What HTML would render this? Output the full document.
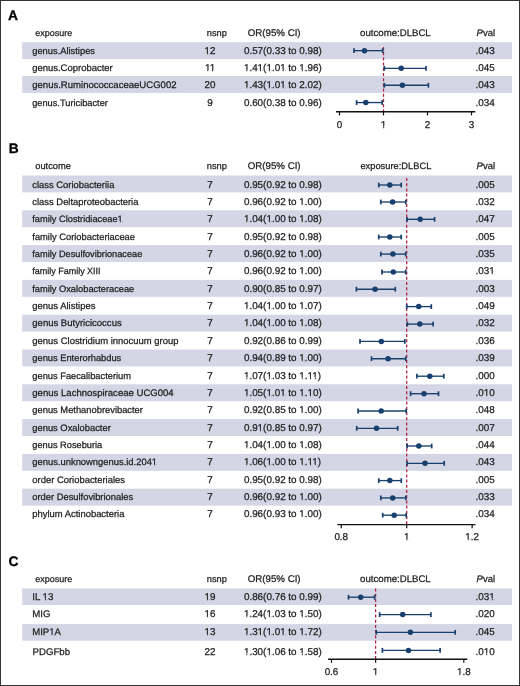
<!DOCTYPE html>
<html><head><meta charset="utf-8"><style>
html,body{margin:0;padding:0;background:#fff;}
body{width:520px;height:686px;overflow:hidden;}
svg{display:block;font-family:"Liberation Sans", sans-serif;will-change:transform;text-rendering:geometricPrecision;}
</style></head><body>
<svg width="520" height="686" viewBox="0 0 520 686">
<rect x="0" y="0" width="520" height="686" fill="#fff"/>
<text x="8.00" y="19.80" font-size="13.8" font-weight="bold" fill="#000" stroke="#000" stroke-width="0.3">A</text>
<text x="35.30" y="35.80" font-size="9.0" textLength="36.99" lengthAdjust="spacing" fill="#222" stroke="#222" stroke-width="0.25">exposure</text>
<text x="206.80" y="35.80" font-size="9.26" textLength="20.09" lengthAdjust="spacing" fill="#222" stroke="#222" stroke-width="0.25">nsnp</text>
<text x="247.70" y="35.80" font-size="9.72" textLength="52.90" lengthAdjust="spacing" fill="#222" stroke="#222" stroke-width="0.25">OR(95% CI)</text>
<text x="360.10" y="35.80" font-size="9.63" textLength="70.62" lengthAdjust="spacing" fill="#222" stroke="#222" stroke-width="0.25">outcome:DLBCL</text>
<text x="476.6" y="35.80" font-size="9.5" fill="#222" stroke="#222" stroke-width="0.25"><tspan font-style="italic">P</tspan>val</text>
<rect x="22.20" y="42.20" width="489.80" height="16.90" fill="#d4d5e5"/>
<rect x="22.20" y="76.00" width="489.80" height="16.90" fill="#d4d5e5"/>
<text x="32.20" y="54.00" font-size="9.34" textLength="62.81" lengthAdjust="spacing" fill="#222" stroke="#222" stroke-width="0.25">genus.Alistipes</text>
<text x="210.00" y="54.00" font-size="9.9" text-anchor="middle" fill="#222" stroke="#222" stroke-width="0.25">12</text>
<text x="243.90" y="54.00" font-size="9.9" fill="#222" stroke="#222" stroke-width="0.25">0.57(0.33 to 0.98)</text>
<text x="475.60" y="54.00" font-size="9.9" fill="#222" stroke="#222" stroke-width="0.25">.043</text>
<text x="32.20" y="70.90" font-size="9.47" textLength="80.51" lengthAdjust="spacing" fill="#222" stroke="#222" stroke-width="0.25">genus.Coprobacter</text>
<text x="210.00" y="70.90" font-size="9.9" text-anchor="middle" fill="#222" stroke="#222" stroke-width="0.25">11</text>
<text x="243.90" y="70.90" font-size="9.9" fill="#222" stroke="#222" stroke-width="0.25">1.41(1.01 to 1.96)</text>
<text x="475.60" y="70.90" font-size="9.9" fill="#222" stroke="#222" stroke-width="0.25">.045</text>
<text x="32.20" y="87.90" font-size="9.54" textLength="144.30" lengthAdjust="spacing" fill="#222" stroke="#222" stroke-width="0.25">genus.RuminococcaceaeUCG002</text>
<text x="210.00" y="87.90" font-size="9.9" text-anchor="middle" fill="#222" stroke="#222" stroke-width="0.25">20</text>
<text x="243.90" y="87.90" font-size="9.9" fill="#222" stroke="#222" stroke-width="0.25">1.43(1.01 to 2.02)</text>
<text x="475.60" y="87.90" font-size="9.9" fill="#222" stroke="#222" stroke-width="0.25">.043</text>
<text x="32.20" y="105.80" font-size="9.24" textLength="75.69" lengthAdjust="spacing" fill="#222" stroke="#222" stroke-width="0.25">genus.Turicibacter</text>
<text x="210.00" y="105.80" font-size="9.9" text-anchor="middle" fill="#222" stroke="#222" stroke-width="0.25">9</text>
<text x="243.90" y="105.80" font-size="9.9" fill="#222" stroke="#222" stroke-width="0.25">0.60(0.38 to 0.96)</text>
<text x="475.60" y="105.80" font-size="9.9" fill="#222" stroke="#222" stroke-width="0.25">.034</text>
<line x1="383.50" y1="47.00" x2="383.50" y2="111.80" stroke="#b02040" stroke-width="1.25" stroke-dasharray="3,2.2"/>
<line x1="354.00" y1="50.65" x2="382.70" y2="50.65" stroke="#18406e" stroke-width="1.35"/>
<line x1="354.00" y1="48.25" x2="354.00" y2="53.05" stroke="#18406e" stroke-width="1.7"/>
<line x1="382.70" y1="48.25" x2="382.70" y2="53.05" stroke="#18406e" stroke-width="1.7"/>
<circle cx="364.50" cy="50.65" r="2.75" fill="#18406e"/>
<line x1="384.30" y1="68.30" x2="426.00" y2="68.30" stroke="#18406e" stroke-width="1.35"/>
<line x1="384.30" y1="65.90" x2="384.30" y2="70.70" stroke="#18406e" stroke-width="1.7"/>
<line x1="426.00" y1="65.90" x2="426.00" y2="70.70" stroke="#18406e" stroke-width="1.7"/>
<circle cx="401.20" cy="68.30" r="2.75" fill="#18406e"/>
<line x1="384.30" y1="85.25" x2="428.40" y2="85.25" stroke="#18406e" stroke-width="1.35"/>
<line x1="384.30" y1="82.85" x2="384.30" y2="87.65" stroke="#18406e" stroke-width="1.7"/>
<line x1="428.40" y1="82.85" x2="428.40" y2="87.65" stroke="#18406e" stroke-width="1.7"/>
<circle cx="402.40" cy="85.25" r="2.75" fill="#18406e"/>
<line x1="356.60" y1="102.55" x2="382.20" y2="102.55" stroke="#18406e" stroke-width="1.35"/>
<line x1="356.60" y1="100.15" x2="356.60" y2="104.95" stroke="#18406e" stroke-width="1.7"/>
<line x1="382.20" y1="100.15" x2="382.20" y2="104.95" stroke="#18406e" stroke-width="1.7"/>
<circle cx="365.80" cy="102.55" r="2.75" fill="#18406e"/>
<line x1="336.00" y1="111.80" x2="475.30" y2="111.80" stroke="#111" stroke-width="1.4"/>
<line x1="339.50" y1="111.80" x2="339.50" y2="115.40" stroke="#111" stroke-width="1.2"/>
<text x="339.50" y="127.60" font-size="9.9" text-anchor="middle" fill="#222" stroke="#222" stroke-width="0.25">0</text>
<line x1="383.50" y1="111.80" x2="383.50" y2="115.40" stroke="#111" stroke-width="1.2"/>
<text x="383.50" y="127.60" font-size="9.9" text-anchor="middle" fill="#222" stroke="#222" stroke-width="0.25">1</text>
<line x1="427.50" y1="111.80" x2="427.50" y2="115.40" stroke="#111" stroke-width="1.2"/>
<text x="427.50" y="127.60" font-size="9.9" text-anchor="middle" fill="#222" stroke="#222" stroke-width="0.25">2</text>
<line x1="471.50" y1="111.80" x2="471.50" y2="115.40" stroke="#111" stroke-width="1.2"/>
<text x="471.50" y="127.60" font-size="9.9" text-anchor="middle" fill="#222" stroke="#222" stroke-width="0.25">3</text>
<text x="8.70" y="153.20" font-size="13.8" font-weight="bold" fill="#000" stroke="#000" stroke-width="0.3">B</text>
<text x="35.20" y="168.70" font-size="9.31" textLength="35.71" lengthAdjust="spacing" fill="#222" stroke="#222" stroke-width="0.25">outcome</text>
<text x="206.80" y="168.70" font-size="9.26" textLength="20.09" lengthAdjust="spacing" fill="#222" stroke="#222" stroke-width="0.25">nsnp</text>
<text x="247.70" y="168.70" font-size="9.72" textLength="52.90" lengthAdjust="spacing" fill="#222" stroke="#222" stroke-width="0.25">OR(95% CI)</text>
<text x="360.40" y="168.70" font-size="9.31" textLength="70.90" lengthAdjust="spacing" fill="#222" stroke="#222" stroke-width="0.25">exposure:DLBCL</text>
<text x="476.6" y="168.70" font-size="9.5" fill="#222" stroke="#222" stroke-width="0.25"><tspan font-style="italic">P</tspan>val</text>
<rect x="22.20" y="175.50" width="489.80" height="16.90" fill="#d4d5e5"/>
<rect x="22.20" y="210.30" width="489.80" height="16.90" fill="#d4d5e5"/>
<rect x="22.20" y="245.10" width="489.80" height="16.90" fill="#d4d5e5"/>
<rect x="22.20" y="279.90" width="489.80" height="16.90" fill="#d4d5e5"/>
<rect x="22.20" y="314.70" width="489.80" height="16.90" fill="#d4d5e5"/>
<rect x="22.20" y="349.50" width="489.80" height="16.90" fill="#d4d5e5"/>
<rect x="22.20" y="384.30" width="489.80" height="16.90" fill="#d4d5e5"/>
<rect x="22.20" y="419.10" width="489.80" height="16.90" fill="#d4d5e5"/>
<rect x="22.20" y="453.90" width="489.80" height="16.90" fill="#d4d5e5"/>
<rect x="22.20" y="488.70" width="489.80" height="16.90" fill="#d4d5e5"/>
<text x="32.30" y="187.60" font-size="9.4" textLength="82.06" lengthAdjust="spacing" fill="#222" stroke="#222" stroke-width="0.25">class Coriobacteriia</text>
<text x="210.00" y="187.60" font-size="9.9" text-anchor="middle" fill="#222" stroke="#222" stroke-width="0.25">7</text>
<text x="243.90" y="187.60" font-size="9.9" fill="#222" stroke="#222" stroke-width="0.25">0.95(0.92 to 0.98)</text>
<text x="475.60" y="187.60" font-size="9.9" fill="#222" stroke="#222" stroke-width="0.25">.005</text>
<text x="32.30" y="204.96" font-size="9.41" textLength="106.14" lengthAdjust="spacing" fill="#222" stroke="#222" stroke-width="0.25">class Deltaproteobacteria</text>
<text x="210.00" y="204.96" font-size="9.9" text-anchor="middle" fill="#222" stroke="#222" stroke-width="0.25">7</text>
<text x="243.90" y="204.96" font-size="9.9" fill="#222" stroke="#222" stroke-width="0.25">0.96(0.92 to 1.00)</text>
<text x="475.60" y="204.96" font-size="9.9" fill="#222" stroke="#222" stroke-width="0.25">.032</text>
<text x="32.30" y="222.32" font-size="9.24" textLength="90.42" lengthAdjust="spacing" fill="#222" stroke="#222" stroke-width="0.25">family Clostridiaceae1</text>
<text x="210.00" y="222.32" font-size="9.9" text-anchor="middle" fill="#222" stroke="#222" stroke-width="0.25">7</text>
<text x="243.90" y="222.32" font-size="9.9" fill="#222" stroke="#222" stroke-width="0.25">1.04(1.00 to 1.08)</text>
<text x="475.60" y="222.32" font-size="9.9" fill="#222" stroke="#222" stroke-width="0.25">.047</text>
<text x="32.30" y="239.68" font-size="9.33" textLength="102.70" lengthAdjust="spacing" fill="#222" stroke="#222" stroke-width="0.25">family Coriobacteriaceae</text>
<text x="210.00" y="239.68" font-size="9.9" text-anchor="middle" fill="#222" stroke="#222" stroke-width="0.25">7</text>
<text x="243.90" y="239.68" font-size="9.9" fill="#222" stroke="#222" stroke-width="0.25">0.95(0.92 to 0.98)</text>
<text x="475.60" y="239.68" font-size="9.9" fill="#222" stroke="#222" stroke-width="0.25">.005</text>
<text x="32.30" y="257.04" font-size="9.21" textLength="110.01" lengthAdjust="spacing" fill="#222" stroke="#222" stroke-width="0.25">family Desulfovibrionaceae</text>
<text x="210.00" y="257.04" font-size="9.9" text-anchor="middle" fill="#222" stroke="#222" stroke-width="0.25">7</text>
<text x="243.90" y="257.04" font-size="9.9" fill="#222" stroke="#222" stroke-width="0.25">0.96(0.92 to 1.00)</text>
<text x="475.60" y="257.04" font-size="9.9" fill="#222" stroke="#222" stroke-width="0.25">.035</text>
<text x="32.30" y="274.40" font-size="9.0" textLength="68.32" lengthAdjust="spacing" fill="#222" stroke="#222" stroke-width="0.25">family Family XIII</text>
<text x="210.00" y="274.40" font-size="9.9" text-anchor="middle" fill="#222" stroke="#222" stroke-width="0.25">7</text>
<text x="243.90" y="274.40" font-size="9.9" fill="#222" stroke="#222" stroke-width="0.25">0.96(0.92 to 1.00)</text>
<text x="475.60" y="274.40" font-size="9.9" fill="#222" stroke="#222" stroke-width="0.25">.031</text>
<text x="32.30" y="291.76" font-size="9.26" textLength="101.91" lengthAdjust="spacing" fill="#222" stroke="#222" stroke-width="0.25">family Oxalobacteraceae</text>
<text x="210.00" y="291.76" font-size="9.9" text-anchor="middle" fill="#222" stroke="#222" stroke-width="0.25">7</text>
<text x="243.90" y="291.76" font-size="9.9" fill="#222" stroke="#222" stroke-width="0.25">0.90(0.85 to 0.97)</text>
<text x="475.60" y="291.76" font-size="9.9" fill="#222" stroke="#222" stroke-width="0.25">.003</text>
<text x="32.30" y="309.12" font-size="9.46" textLength="63.11" lengthAdjust="spacing" fill="#222" stroke="#222" stroke-width="0.25">genus Alistipes</text>
<text x="210.00" y="309.12" font-size="9.9" text-anchor="middle" fill="#222" stroke="#222" stroke-width="0.25">7</text>
<text x="243.90" y="309.12" font-size="9.9" fill="#222" stroke="#222" stroke-width="0.25">1.04(1.00 to 1.07)</text>
<text x="475.60" y="309.12" font-size="9.9" fill="#222" stroke="#222" stroke-width="0.25">.049</text>
<text x="32.30" y="326.48" font-size="9.52" textLength="89.38" lengthAdjust="spacing" fill="#222" stroke="#222" stroke-width="0.25">genus Butyricicoccus</text>
<text x="210.00" y="326.48" font-size="9.9" text-anchor="middle" fill="#222" stroke="#222" stroke-width="0.25">7</text>
<text x="243.90" y="326.48" font-size="9.9" fill="#222" stroke="#222" stroke-width="0.25">1.04(1.00 to 1.08)</text>
<text x="475.60" y="326.48" font-size="9.9" fill="#222" stroke="#222" stroke-width="0.25">.032</text>
<text x="32.30" y="343.84" font-size="9.46" textLength="146.18" lengthAdjust="spacing" fill="#222" stroke="#222" stroke-width="0.25">genus Clostridium innocuum group</text>
<text x="210.00" y="343.84" font-size="9.9" text-anchor="middle" fill="#222" stroke="#222" stroke-width="0.25">7</text>
<text x="243.90" y="343.84" font-size="9.9" fill="#222" stroke="#222" stroke-width="0.25">0.92(0.86 to 0.99)</text>
<text x="475.60" y="343.84" font-size="9.9" fill="#222" stroke="#222" stroke-width="0.25">.036</text>
<text x="32.30" y="361.20" font-size="9.3" textLength="88.98" lengthAdjust="spacing" fill="#222" stroke="#222" stroke-width="0.25">genus Enterorhabdus</text>
<text x="210.00" y="361.20" font-size="9.9" text-anchor="middle" fill="#222" stroke="#222" stroke-width="0.25">7</text>
<text x="243.90" y="361.20" font-size="9.9" fill="#222" stroke="#222" stroke-width="0.25">0.94(0.89 to 1.00)</text>
<text x="475.60" y="361.20" font-size="9.9" fill="#222" stroke="#222" stroke-width="0.25">.039</text>
<text x="32.30" y="378.56" font-size="9.3" textLength="98.72" lengthAdjust="spacing" fill="#222" stroke="#222" stroke-width="0.25">genus Faecalibacterium</text>
<text x="210.00" y="378.56" font-size="9.9" text-anchor="middle" fill="#222" stroke="#222" stroke-width="0.25">7</text>
<text x="243.90" y="378.56" font-size="9.9" fill="#222" stroke="#222" stroke-width="0.25">1.07(1.03 to 1.11)</text>
<text x="475.60" y="378.56" font-size="9.9" fill="#222" stroke="#222" stroke-width="0.25">.000</text>
<text x="32.30" y="395.92" font-size="9.56" textLength="141.38" lengthAdjust="spacing" fill="#222" stroke="#222" stroke-width="0.25">genus Lachnospiraceae UCG004</text>
<text x="210.00" y="395.92" font-size="9.9" text-anchor="middle" fill="#222" stroke="#222" stroke-width="0.25">7</text>
<text x="243.90" y="395.92" font-size="9.9" fill="#222" stroke="#222" stroke-width="0.25">1.05(1.01 to 1.10)</text>
<text x="475.60" y="395.92" font-size="9.9" fill="#222" stroke="#222" stroke-width="0.25">.010</text>
<text x="32.30" y="413.28" font-size="9.34" textLength="110.61" lengthAdjust="spacing" fill="#222" stroke="#222" stroke-width="0.25">genus Methanobrevibacter</text>
<text x="210.00" y="413.28" font-size="9.9" text-anchor="middle" fill="#222" stroke="#222" stroke-width="0.25">7</text>
<text x="243.90" y="413.28" font-size="9.9" fill="#222" stroke="#222" stroke-width="0.25">0.92(0.85 to 1.00)</text>
<text x="475.60" y="413.28" font-size="9.9" fill="#222" stroke="#222" stroke-width="0.25">.048</text>
<text x="32.30" y="430.64" font-size="9.35" textLength="78.49" lengthAdjust="spacing" fill="#222" stroke="#222" stroke-width="0.25">genus Oxalobacter</text>
<text x="210.00" y="430.64" font-size="9.9" text-anchor="middle" fill="#222" stroke="#222" stroke-width="0.25">7</text>
<text x="243.90" y="430.64" font-size="9.9" fill="#222" stroke="#222" stroke-width="0.25">0.91(0.85 to 0.97)</text>
<text x="475.60" y="430.64" font-size="9.9" fill="#222" stroke="#222" stroke-width="0.25">.007</text>
<text x="32.30" y="448.00" font-size="9.25" textLength="69.96" lengthAdjust="spacing" fill="#222" stroke="#222" stroke-width="0.25">genus Roseburia</text>
<text x="210.00" y="448.00" font-size="9.9" text-anchor="middle" fill="#222" stroke="#222" stroke-width="0.25">7</text>
<text x="243.90" y="448.00" font-size="9.9" fill="#222" stroke="#222" stroke-width="0.25">1.04(1.00 to 1.08)</text>
<text x="475.60" y="448.00" font-size="9.9" fill="#222" stroke="#222" stroke-width="0.25">.044</text>
<text x="32.30" y="465.36" font-size="9.39" textLength="124.79" lengthAdjust="spacing" fill="#222" stroke="#222" stroke-width="0.25">genus.unknowngenus.id.2041</text>
<text x="210.00" y="465.36" font-size="9.9" text-anchor="middle" fill="#222" stroke="#222" stroke-width="0.25">7</text>
<text x="243.90" y="465.36" font-size="9.9" fill="#222" stroke="#222" stroke-width="0.25">1.06(1.00 to 1.11)</text>
<text x="475.60" y="465.36" font-size="9.9" fill="#222" stroke="#222" stroke-width="0.25">.043</text>
<text x="32.30" y="482.72" font-size="9.42" textLength="92.68" lengthAdjust="spacing" fill="#222" stroke="#222" stroke-width="0.25">order Coriobacteriales</text>
<text x="210.00" y="482.72" font-size="9.9" text-anchor="middle" fill="#222" stroke="#222" stroke-width="0.25">7</text>
<text x="243.90" y="482.72" font-size="9.9" fill="#222" stroke="#222" stroke-width="0.25">0.95(0.92 to 0.98)</text>
<text x="475.60" y="482.72" font-size="9.9" fill="#222" stroke="#222" stroke-width="0.25">.005</text>
<text x="32.30" y="500.08" font-size="9.35" textLength="100.79" lengthAdjust="spacing" fill="#222" stroke="#222" stroke-width="0.25">order Desulfovibrionales</text>
<text x="210.00" y="500.08" font-size="9.9" text-anchor="middle" fill="#222" stroke="#222" stroke-width="0.25">7</text>
<text x="243.90" y="500.08" font-size="9.9" fill="#222" stroke="#222" stroke-width="0.25">0.96(0.92 to 1.00)</text>
<text x="475.60" y="500.08" font-size="9.9" fill="#222" stroke="#222" stroke-width="0.25">.033</text>
<text x="32.30" y="517.44" font-size="9.41" textLength="92.09" lengthAdjust="spacing" fill="#222" stroke="#222" stroke-width="0.25">phylum Actinobacteria</text>
<text x="210.00" y="517.44" font-size="9.9" text-anchor="middle" fill="#222" stroke="#222" stroke-width="0.25">7</text>
<text x="243.90" y="517.44" font-size="9.9" fill="#222" stroke="#222" stroke-width="0.25">0.96(0.93 to 1.00)</text>
<text x="475.60" y="517.44" font-size="9.9" fill="#222" stroke="#222" stroke-width="0.25">.034</text>
<line x1="406.70" y1="178.00" x2="406.70" y2="524.60" stroke="#b02040" stroke-width="1.25" stroke-dasharray="3,2.2"/>
<line x1="378.75" y1="185.00" x2="401.20" y2="185.00" stroke="#18406e" stroke-width="1.35"/>
<line x1="378.75" y1="182.60" x2="378.75" y2="187.40" stroke="#18406e" stroke-width="1.7"/>
<line x1="401.20" y1="182.60" x2="401.20" y2="187.40" stroke="#18406e" stroke-width="1.7"/>
<circle cx="389.80" cy="185.00" r="2.75" fill="#18406e"/>
<line x1="380.80" y1="202.00" x2="405.80" y2="202.00" stroke="#18406e" stroke-width="1.35"/>
<line x1="380.80" y1="199.60" x2="380.80" y2="204.40" stroke="#18406e" stroke-width="1.7"/>
<line x1="405.80" y1="199.60" x2="405.80" y2="204.40" stroke="#18406e" stroke-width="1.7"/>
<circle cx="392.60" cy="202.00" r="2.75" fill="#18406e"/>
<line x1="407.00" y1="219.30" x2="434.60" y2="219.30" stroke="#18406e" stroke-width="1.35"/>
<line x1="407.00" y1="216.90" x2="407.00" y2="221.70" stroke="#18406e" stroke-width="1.7"/>
<line x1="434.60" y1="216.90" x2="434.60" y2="221.70" stroke="#18406e" stroke-width="1.7"/>
<circle cx="420.20" cy="219.30" r="2.75" fill="#18406e"/>
<line x1="378.75" y1="237.00" x2="401.20" y2="237.00" stroke="#18406e" stroke-width="1.35"/>
<line x1="378.75" y1="234.60" x2="378.75" y2="239.40" stroke="#18406e" stroke-width="1.7"/>
<line x1="401.20" y1="234.60" x2="401.20" y2="239.40" stroke="#18406e" stroke-width="1.7"/>
<circle cx="389.80" cy="237.00" r="2.75" fill="#18406e"/>
<line x1="380.80" y1="254.10" x2="405.70" y2="254.10" stroke="#18406e" stroke-width="1.35"/>
<line x1="380.80" y1="251.70" x2="380.80" y2="256.50" stroke="#18406e" stroke-width="1.7"/>
<line x1="405.70" y1="251.70" x2="405.70" y2="256.50" stroke="#18406e" stroke-width="1.7"/>
<circle cx="392.90" cy="254.10" r="2.75" fill="#18406e"/>
<line x1="382.00" y1="272.00" x2="405.70" y2="272.00" stroke="#18406e" stroke-width="1.35"/>
<line x1="382.00" y1="269.60" x2="382.00" y2="274.40" stroke="#18406e" stroke-width="1.7"/>
<line x1="405.70" y1="269.60" x2="405.70" y2="274.40" stroke="#18406e" stroke-width="1.7"/>
<circle cx="393.30" cy="272.00" r="2.75" fill="#18406e"/>
<line x1="356.40" y1="289.25" x2="395.30" y2="289.25" stroke="#18406e" stroke-width="1.35"/>
<line x1="356.40" y1="286.85" x2="356.40" y2="291.65" stroke="#18406e" stroke-width="1.7"/>
<line x1="395.30" y1="286.85" x2="395.30" y2="291.65" stroke="#18406e" stroke-width="1.7"/>
<circle cx="375.10" cy="289.25" r="2.75" fill="#18406e"/>
<line x1="406.70" y1="306.60" x2="431.30" y2="306.60" stroke="#18406e" stroke-width="1.35"/>
<line x1="406.70" y1="304.20" x2="406.70" y2="309.00" stroke="#18406e" stroke-width="1.7"/>
<line x1="431.30" y1="304.20" x2="431.30" y2="309.00" stroke="#18406e" stroke-width="1.7"/>
<circle cx="418.70" cy="306.60" r="2.75" fill="#18406e"/>
<line x1="407.30" y1="324.10" x2="433.10" y2="324.10" stroke="#18406e" stroke-width="1.35"/>
<line x1="407.30" y1="321.70" x2="407.30" y2="326.50" stroke="#18406e" stroke-width="1.7"/>
<line x1="433.10" y1="321.70" x2="433.10" y2="326.50" stroke="#18406e" stroke-width="1.7"/>
<circle cx="419.80" cy="324.10" r="2.75" fill="#18406e"/>
<line x1="360.00" y1="341.40" x2="404.80" y2="341.40" stroke="#18406e" stroke-width="1.35"/>
<line x1="360.00" y1="339.00" x2="360.00" y2="343.80" stroke="#18406e" stroke-width="1.7"/>
<line x1="404.80" y1="339.00" x2="404.80" y2="343.80" stroke="#18406e" stroke-width="1.7"/>
<circle cx="381.30" cy="341.40" r="2.75" fill="#18406e"/>
<line x1="371.50" y1="358.70" x2="405.80" y2="358.70" stroke="#18406e" stroke-width="1.35"/>
<line x1="371.50" y1="356.30" x2="371.50" y2="361.10" stroke="#18406e" stroke-width="1.7"/>
<line x1="405.80" y1="356.30" x2="405.80" y2="361.10" stroke="#18406e" stroke-width="1.7"/>
<circle cx="388.10" cy="358.70" r="2.75" fill="#18406e"/>
<line x1="416.90" y1="376.20" x2="443.80" y2="376.20" stroke="#18406e" stroke-width="1.35"/>
<line x1="416.90" y1="373.80" x2="416.90" y2="378.60" stroke="#18406e" stroke-width="1.7"/>
<line x1="443.80" y1="373.80" x2="443.80" y2="378.60" stroke="#18406e" stroke-width="1.7"/>
<circle cx="429.80" cy="376.20" r="2.75" fill="#18406e"/>
<line x1="410.60" y1="393.70" x2="438.50" y2="393.70" stroke="#18406e" stroke-width="1.35"/>
<line x1="410.60" y1="391.30" x2="410.60" y2="396.10" stroke="#18406e" stroke-width="1.7"/>
<line x1="438.50" y1="391.30" x2="438.50" y2="396.10" stroke="#18406e" stroke-width="1.7"/>
<circle cx="424.00" cy="393.70" r="2.75" fill="#18406e"/>
<line x1="358.10" y1="411.00" x2="406.20" y2="411.00" stroke="#18406e" stroke-width="1.35"/>
<line x1="358.10" y1="408.60" x2="358.10" y2="413.40" stroke="#18406e" stroke-width="1.7"/>
<line x1="406.20" y1="408.60" x2="406.20" y2="413.40" stroke="#18406e" stroke-width="1.7"/>
<circle cx="381.20" cy="411.00" r="2.75" fill="#18406e"/>
<line x1="356.70" y1="428.30" x2="397.70" y2="428.30" stroke="#18406e" stroke-width="1.35"/>
<line x1="356.70" y1="425.90" x2="356.70" y2="430.70" stroke="#18406e" stroke-width="1.7"/>
<line x1="397.70" y1="425.90" x2="397.70" y2="430.70" stroke="#18406e" stroke-width="1.7"/>
<circle cx="376.50" cy="428.30" r="2.75" fill="#18406e"/>
<line x1="407.10" y1="446.00" x2="431.70" y2="446.00" stroke="#18406e" stroke-width="1.35"/>
<line x1="407.10" y1="443.60" x2="407.10" y2="448.40" stroke="#18406e" stroke-width="1.7"/>
<line x1="431.70" y1="443.60" x2="431.70" y2="448.40" stroke="#18406e" stroke-width="1.7"/>
<circle cx="418.80" cy="446.00" r="2.75" fill="#18406e"/>
<line x1="407.10" y1="463.30" x2="444.20" y2="463.30" stroke="#18406e" stroke-width="1.35"/>
<line x1="407.10" y1="460.90" x2="407.10" y2="465.70" stroke="#18406e" stroke-width="1.7"/>
<line x1="444.20" y1="460.90" x2="444.20" y2="465.70" stroke="#18406e" stroke-width="1.7"/>
<circle cx="425.00" cy="463.30" r="2.75" fill="#18406e"/>
<line x1="378.80" y1="480.60" x2="401.30" y2="480.60" stroke="#18406e" stroke-width="1.35"/>
<line x1="378.80" y1="478.20" x2="378.80" y2="483.00" stroke="#18406e" stroke-width="1.7"/>
<line x1="401.30" y1="478.20" x2="401.30" y2="483.00" stroke="#18406e" stroke-width="1.7"/>
<circle cx="389.80" cy="480.60" r="2.75" fill="#18406e"/>
<line x1="380.80" y1="497.90" x2="405.80" y2="497.90" stroke="#18406e" stroke-width="1.35"/>
<line x1="380.80" y1="495.50" x2="380.80" y2="500.30" stroke="#18406e" stroke-width="1.7"/>
<line x1="405.80" y1="495.50" x2="405.80" y2="500.30" stroke="#18406e" stroke-width="1.7"/>
<circle cx="392.70" cy="497.90" r="2.75" fill="#18406e"/>
<line x1="382.70" y1="515.20" x2="406.20" y2="515.20" stroke="#18406e" stroke-width="1.35"/>
<line x1="382.70" y1="512.80" x2="382.70" y2="517.60" stroke="#18406e" stroke-width="1.7"/>
<line x1="406.20" y1="512.80" x2="406.20" y2="517.60" stroke="#18406e" stroke-width="1.7"/>
<circle cx="394.20" cy="515.20" r="2.75" fill="#18406e"/>
<line x1="337.30" y1="524.60" x2="475.40" y2="524.60" stroke="#111" stroke-width="1.4"/>
<line x1="341.25" y1="524.60" x2="341.25" y2="528.20" stroke="#111" stroke-width="1.2"/>
<text x="341.25" y="540.40" font-size="9.9" text-anchor="middle" fill="#222" stroke="#222" stroke-width="0.25">0.8</text>
<line x1="406.70" y1="524.60" x2="406.70" y2="528.20" stroke="#111" stroke-width="1.2"/>
<text x="406.70" y="540.40" font-size="9.9" text-anchor="middle" fill="#222" stroke="#222" stroke-width="0.25">1</text>
<line x1="472.15" y1="524.60" x2="472.15" y2="528.20" stroke="#111" stroke-width="1.2"/>
<text x="472.15" y="540.40" font-size="9.9" text-anchor="middle" fill="#222" stroke="#222" stroke-width="0.25">1.2</text>
<text x="8.40" y="566.00" font-size="13.8" font-weight="bold" fill="#000" stroke="#000" stroke-width="0.3">C</text>
<text x="35.30" y="581.60" font-size="9.0" textLength="36.99" lengthAdjust="spacing" fill="#222" stroke="#222" stroke-width="0.25">exposure</text>
<text x="206.80" y="581.60" font-size="9.26" textLength="20.09" lengthAdjust="spacing" fill="#222" stroke="#222" stroke-width="0.25">nsnp</text>
<text x="247.70" y="581.60" font-size="9.72" textLength="52.90" lengthAdjust="spacing" fill="#222" stroke="#222" stroke-width="0.25">OR(95% CI)</text>
<text x="360.10" y="581.60" font-size="9.63" textLength="70.62" lengthAdjust="spacing" fill="#222" stroke="#222" stroke-width="0.25">outcome:DLBCL</text>
<text x="476.6" y="581.60" font-size="9.5" fill="#222" stroke="#222" stroke-width="0.25"><tspan font-style="italic">P</tspan>val</text>
<rect x="22.20" y="588.40" width="489.80" height="16.60" fill="#d4d5e5"/>
<rect x="22.20" y="624.10" width="489.80" height="16.60" fill="#d4d5e5"/>
<text x="32.20" y="599.60" font-size="9.66" textLength="21.12" lengthAdjust="spacing" fill="#222" stroke="#222" stroke-width="0.25">IL 13</text>
<text x="210.00" y="599.60" font-size="9.9" text-anchor="middle" fill="#222" stroke="#222" stroke-width="0.25">19</text>
<text x="243.90" y="599.60" font-size="9.9" fill="#222" stroke="#222" stroke-width="0.25">0.86(0.76 to 0.99)</text>
<text x="475.60" y="599.60" font-size="9.9" fill="#222" stroke="#222" stroke-width="0.25">.031</text>
<text x="32.20" y="617.30" font-size="9.63" textLength="18.19" lengthAdjust="spacing" fill="#222" stroke="#222" stroke-width="0.25">MIG</text>
<text x="210.00" y="617.30" font-size="9.9" text-anchor="middle" fill="#222" stroke="#222" stroke-width="0.25">16</text>
<text x="243.90" y="617.30" font-size="9.9" fill="#222" stroke="#222" stroke-width="0.25">1.24(1.03 to 1.50)</text>
<text x="475.60" y="617.30" font-size="9.9" fill="#222" stroke="#222" stroke-width="0.25">.020</text>
<text x="32.20" y="635.20" font-size="9.58" textLength="28.76" lengthAdjust="spacing" fill="#222" stroke="#222" stroke-width="0.25">MIP1A</text>
<text x="210.00" y="635.20" font-size="9.9" text-anchor="middle" fill="#222" stroke="#222" stroke-width="0.25">13</text>
<text x="243.90" y="635.20" font-size="9.9" fill="#222" stroke="#222" stroke-width="0.25">1.31(1.01 to 1.72)</text>
<text x="475.60" y="635.20" font-size="9.9" fill="#222" stroke="#222" stroke-width="0.25">.045</text>
<text x="32.50" y="654.70" font-size="9.64" textLength="37.50" lengthAdjust="spacing" fill="#222" stroke="#222" stroke-width="0.25">PDGFbb</text>
<text x="210.00" y="654.70" font-size="9.9" text-anchor="middle" fill="#222" stroke="#222" stroke-width="0.25">22</text>
<text x="243.90" y="654.70" font-size="9.9" fill="#222" stroke="#222" stroke-width="0.25">1.30(1.06 to 1.58)</text>
<text x="475.60" y="654.70" font-size="9.9" fill="#222" stroke="#222" stroke-width="0.25">.010</text>
<line x1="375.60" y1="588.50" x2="375.60" y2="659.20" stroke="#b02040" stroke-width="1.25" stroke-dasharray="3,2.2"/>
<line x1="348.50" y1="597.20" x2="374.60" y2="597.20" stroke="#18406e" stroke-width="1.35"/>
<line x1="348.50" y1="594.80" x2="348.50" y2="599.60" stroke="#18406e" stroke-width="1.7"/>
<line x1="374.60" y1="594.80" x2="374.60" y2="599.60" stroke="#18406e" stroke-width="1.7"/>
<circle cx="360.70" cy="597.20" r="2.75" fill="#18406e"/>
<line x1="379.60" y1="614.60" x2="430.90" y2="614.60" stroke="#18406e" stroke-width="1.35"/>
<line x1="379.60" y1="612.20" x2="379.60" y2="617.00" stroke="#18406e" stroke-width="1.7"/>
<line x1="430.90" y1="612.20" x2="430.90" y2="617.00" stroke="#18406e" stroke-width="1.7"/>
<circle cx="402.70" cy="614.60" r="2.75" fill="#18406e"/>
<line x1="376.20" y1="632.30" x2="455.20" y2="632.30" stroke="#18406e" stroke-width="1.35"/>
<line x1="376.20" y1="629.90" x2="376.20" y2="634.70" stroke="#18406e" stroke-width="1.7"/>
<line x1="455.20" y1="629.90" x2="455.20" y2="634.70" stroke="#18406e" stroke-width="1.7"/>
<circle cx="410.40" cy="632.30" r="2.75" fill="#18406e"/>
<line x1="382.40" y1="650.40" x2="440.10" y2="650.40" stroke="#18406e" stroke-width="1.35"/>
<line x1="382.40" y1="648.00" x2="382.40" y2="652.80" stroke="#18406e" stroke-width="1.7"/>
<line x1="440.10" y1="648.00" x2="440.10" y2="652.80" stroke="#18406e" stroke-width="1.7"/>
<circle cx="408.50" cy="650.40" r="2.75" fill="#18406e"/>
<line x1="328.10" y1="659.20" x2="467.30" y2="659.20" stroke="#111" stroke-width="1.4"/>
<line x1="331.50" y1="659.20" x2="331.50" y2="662.80" stroke="#111" stroke-width="1.2"/>
<text x="331.50" y="675.00" font-size="9.9" text-anchor="middle" fill="#222" stroke="#222" stroke-width="0.25">0.6</text>
<line x1="375.60" y1="659.20" x2="375.60" y2="662.80" stroke="#111" stroke-width="1.2"/>
<text x="375.60" y="675.00" font-size="9.9" text-anchor="middle" fill="#222" stroke="#222" stroke-width="0.25">1</text>
<line x1="463.80" y1="659.20" x2="463.80" y2="662.80" stroke="#111" stroke-width="1.2"/>
<text x="463.80" y="675.00" font-size="9.9" text-anchor="middle" fill="#222" stroke="#222" stroke-width="0.25">1.8</text>
<rect x="205.00" y="53.00" width="1.95" height="2.00" fill="#d4d5e5"/>
<rect x="207.92" y="53.00" width="1.78" height="2.00" fill="#d4d5e5"/>
<rect x="205.00" y="70.00" width="2.32" height="2.00" fill="#fff"/>
<rect x="208.29" y="70.00" width="1.78" height="2.00" fill="#fff"/>
<rect x="210.00" y="70.00" width="2.07" height="2.00" fill="#fff"/>
<rect x="213.04" y="70.00" width="1.78" height="2.00" fill="#fff"/>
<rect x="244.00" y="70.00" width="2.34" height="2.00" fill="#fff"/>
<rect x="247.31" y="70.00" width="1.78" height="2.00" fill="#fff"/>
<rect x="258.00" y="70.00" width="2.06" height="2.00" fill="#fff"/>
<rect x="261.03" y="70.00" width="1.78" height="2.00" fill="#fff"/>
<rect x="267.00" y="70.00" width="1.84" height="2.00" fill="#fff"/>
<rect x="269.81" y="70.00" width="1.78" height="2.00" fill="#fff"/>
<rect x="280.00" y="70.00" width="2.58" height="2.00" fill="#fff"/>
<rect x="283.55" y="70.00" width="1.78" height="2.00" fill="#fff"/>
<rect x="299.00" y="70.00" width="2.78" height="2.00" fill="#fff"/>
<rect x="302.75" y="70.00" width="1.78" height="2.00" fill="#fff"/>
<rect x="244.00" y="87.00" width="2.34" height="2.00" fill="#d4d5e5"/>
<rect x="247.31" y="87.00" width="1.78" height="2.00" fill="#d4d5e5"/>
<rect x="267.00" y="87.00" width="1.84" height="2.00" fill="#d4d5e5"/>
<rect x="269.81" y="87.00" width="1.78" height="2.00" fill="#d4d5e5"/>
<rect x="280.00" y="87.00" width="2.58" height="2.00" fill="#d4d5e5"/>
<rect x="283.55" y="87.00" width="1.78" height="2.00" fill="#d4d5e5"/>
<rect x="381.00" y="126.00" width="2.19" height="3.00" fill="#fff"/>
<rect x="384.16" y="126.00" width="1.78" height="3.00" fill="#fff"/>
<rect x="299.00" y="204.00" width="2.78" height="2.00" fill="#fff"/>
<rect x="302.75" y="204.00" width="1.78" height="2.00" fill="#fff"/>
<rect x="118.00" y="221.00" width="1.86" height="2.00" fill="#d4d5e5"/>
<rect x="120.76" y="221.00" width="1.66" height="2.00" fill="#d4d5e5"/>
<rect x="244.00" y="221.00" width="2.34" height="2.00" fill="#d4d5e5"/>
<rect x="247.31" y="221.00" width="1.78" height="2.00" fill="#d4d5e5"/>
<rect x="267.00" y="221.00" width="1.84" height="2.00" fill="#d4d5e5"/>
<rect x="269.81" y="221.00" width="1.78" height="2.00" fill="#d4d5e5"/>
<rect x="299.00" y="221.00" width="2.78" height="2.00" fill="#d4d5e5"/>
<rect x="302.75" y="221.00" width="1.78" height="2.00" fill="#d4d5e5"/>
<rect x="299.00" y="256.00" width="2.78" height="2.00" fill="#d4d5e5"/>
<rect x="302.75" y="256.00" width="1.78" height="2.00" fill="#d4d5e5"/>
<rect x="299.00" y="273.00" width="2.78" height="2.00" fill="#fff"/>
<rect x="302.75" y="273.00" width="1.78" height="2.00" fill="#fff"/>
<rect x="489.00" y="273.00" width="2.76" height="2.00" fill="#fff"/>
<rect x="492.73" y="273.00" width="1.78" height="2.00" fill="#fff"/>
<rect x="244.00" y="308.00" width="2.34" height="2.00" fill="#fff"/>
<rect x="247.31" y="308.00" width="1.78" height="2.00" fill="#fff"/>
<rect x="267.00" y="308.00" width="1.84" height="2.00" fill="#fff"/>
<rect x="269.81" y="308.00" width="1.78" height="2.00" fill="#fff"/>
<rect x="299.00" y="308.00" width="2.78" height="2.00" fill="#fff"/>
<rect x="302.75" y="308.00" width="1.78" height="2.00" fill="#fff"/>
<rect x="244.00" y="325.00" width="2.34" height="2.00" fill="#d4d5e5"/>
<rect x="247.31" y="325.00" width="1.78" height="2.00" fill="#d4d5e5"/>
<rect x="267.00" y="325.00" width="1.84" height="2.00" fill="#d4d5e5"/>
<rect x="269.81" y="325.00" width="1.78" height="2.00" fill="#d4d5e5"/>
<rect x="299.00" y="325.00" width="2.78" height="2.00" fill="#d4d5e5"/>
<rect x="302.75" y="325.00" width="1.78" height="2.00" fill="#d4d5e5"/>
<rect x="299.00" y="360.00" width="2.78" height="2.00" fill="#d4d5e5"/>
<rect x="302.75" y="360.00" width="1.78" height="2.00" fill="#d4d5e5"/>
<rect x="244.00" y="377.00" width="2.34" height="3.00" fill="#fff"/>
<rect x="247.31" y="377.00" width="1.78" height="3.00" fill="#fff"/>
<rect x="267.00" y="377.00" width="1.84" height="3.00" fill="#fff"/>
<rect x="269.81" y="377.00" width="1.78" height="3.00" fill="#fff"/>
<rect x="299.00" y="377.00" width="2.78" height="3.00" fill="#fff"/>
<rect x="302.75" y="377.00" width="1.78" height="3.00" fill="#fff"/>
<rect x="308.00" y="377.00" width="2.01" height="3.00" fill="#fff"/>
<rect x="310.98" y="377.00" width="1.78" height="3.00" fill="#fff"/>
<rect x="312.00" y="377.00" width="2.78" height="3.00" fill="#fff"/>
<rect x="315.75" y="377.00" width="1.78" height="3.00" fill="#fff"/>
<rect x="244.00" y="395.00" width="2.34" height="2.00" fill="#d4d5e5"/>
<rect x="247.31" y="395.00" width="1.78" height="2.00" fill="#d4d5e5"/>
<rect x="267.00" y="395.00" width="1.84" height="2.00" fill="#d4d5e5"/>
<rect x="269.81" y="395.00" width="1.78" height="2.00" fill="#d4d5e5"/>
<rect x="280.00" y="395.00" width="2.58" height="2.00" fill="#d4d5e5"/>
<rect x="283.55" y="395.00" width="1.78" height="2.00" fill="#d4d5e5"/>
<rect x="299.00" y="395.00" width="2.78" height="2.00" fill="#d4d5e5"/>
<rect x="302.75" y="395.00" width="1.78" height="2.00" fill="#d4d5e5"/>
<rect x="308.00" y="395.00" width="2.01" height="2.00" fill="#d4d5e5"/>
<rect x="310.98" y="395.00" width="1.78" height="2.00" fill="#d4d5e5"/>
<rect x="484.00" y="395.00" width="2.28" height="2.00" fill="#d4d5e5"/>
<rect x="487.25" y="395.00" width="1.78" height="2.00" fill="#d4d5e5"/>
<rect x="299.00" y="412.00" width="2.78" height="2.00" fill="#fff"/>
<rect x="302.75" y="412.00" width="1.78" height="2.00" fill="#fff"/>
<rect x="258.00" y="429.00" width="2.06" height="3.00" fill="#d4d5e5"/>
<rect x="261.03" y="429.00" width="1.78" height="3.00" fill="#d4d5e5"/>
<rect x="244.00" y="447.00" width="2.34" height="2.00" fill="#fff"/>
<rect x="247.31" y="447.00" width="1.78" height="2.00" fill="#fff"/>
<rect x="267.00" y="447.00" width="1.84" height="2.00" fill="#fff"/>
<rect x="269.81" y="447.00" width="1.78" height="2.00" fill="#fff"/>
<rect x="299.00" y="447.00" width="2.78" height="2.00" fill="#fff"/>
<rect x="302.75" y="447.00" width="1.78" height="2.00" fill="#fff"/>
<rect x="152.00" y="464.00" width="2.19" height="2.00" fill="#d4d5e5"/>
<rect x="155.11" y="464.00" width="1.69" height="2.00" fill="#d4d5e5"/>
<rect x="244.00" y="464.00" width="2.34" height="2.00" fill="#d4d5e5"/>
<rect x="247.31" y="464.00" width="1.78" height="2.00" fill="#d4d5e5"/>
<rect x="267.00" y="464.00" width="1.84" height="2.00" fill="#d4d5e5"/>
<rect x="269.81" y="464.00" width="1.78" height="2.00" fill="#d4d5e5"/>
<rect x="299.00" y="464.00" width="2.78" height="2.00" fill="#d4d5e5"/>
<rect x="302.75" y="464.00" width="1.78" height="2.00" fill="#d4d5e5"/>
<rect x="308.00" y="464.00" width="2.01" height="2.00" fill="#d4d5e5"/>
<rect x="310.98" y="464.00" width="1.78" height="2.00" fill="#d4d5e5"/>
<rect x="312.00" y="464.00" width="2.78" height="2.00" fill="#d4d5e5"/>
<rect x="315.75" y="464.00" width="1.78" height="2.00" fill="#d4d5e5"/>
<rect x="299.00" y="499.00" width="2.78" height="2.00" fill="#d4d5e5"/>
<rect x="302.75" y="499.00" width="1.78" height="2.00" fill="#d4d5e5"/>
<rect x="299.00" y="516.00" width="2.78" height="2.00" fill="#fff"/>
<rect x="302.75" y="516.00" width="1.78" height="2.00" fill="#fff"/>
<rect x="404.00" y="539.00" width="2.39" height="2.00" fill="#fff"/>
<rect x="407.36" y="539.00" width="1.78" height="2.00" fill="#fff"/>
<rect x="465.00" y="539.00" width="2.72" height="2.00" fill="#fff"/>
<rect x="468.70" y="539.00" width="1.78" height="2.00" fill="#fff"/>
<rect x="43.00" y="598.00" width="1.96" height="3.00" fill="#d4d5e5"/>
<rect x="45.91" y="598.00" width="1.74" height="3.00" fill="#d4d5e5"/>
<rect x="205.00" y="598.00" width="1.95" height="3.00" fill="#d4d5e5"/>
<rect x="207.92" y="598.00" width="1.78" height="3.00" fill="#d4d5e5"/>
<rect x="489.00" y="598.00" width="2.76" height="3.00" fill="#d4d5e5"/>
<rect x="492.73" y="598.00" width="1.78" height="3.00" fill="#d4d5e5"/>
<rect x="205.00" y="616.00" width="1.95" height="2.00" fill="#fff"/>
<rect x="207.92" y="616.00" width="1.78" height="2.00" fill="#fff"/>
<rect x="244.00" y="616.00" width="2.34" height="2.00" fill="#fff"/>
<rect x="247.31" y="616.00" width="1.78" height="2.00" fill="#fff"/>
<rect x="267.00" y="616.00" width="1.84" height="2.00" fill="#fff"/>
<rect x="269.81" y="616.00" width="1.78" height="2.00" fill="#fff"/>
<rect x="299.00" y="616.00" width="2.78" height="2.00" fill="#fff"/>
<rect x="302.75" y="616.00" width="1.78" height="2.00" fill="#fff"/>
<rect x="49.00" y="634.00" width="2.60" height="2.00" fill="#d4d5e5"/>
<rect x="52.55" y="634.00" width="1.73" height="2.00" fill="#d4d5e5"/>
<rect x="205.00" y="634.00" width="1.95" height="2.00" fill="#d4d5e5"/>
<rect x="207.92" y="634.00" width="1.78" height="2.00" fill="#d4d5e5"/>
<rect x="244.00" y="634.00" width="2.34" height="2.00" fill="#d4d5e5"/>
<rect x="247.31" y="634.00" width="1.78" height="2.00" fill="#d4d5e5"/>
<rect x="258.00" y="634.00" width="2.06" height="2.00" fill="#d4d5e5"/>
<rect x="261.03" y="634.00" width="1.78" height="2.00" fill="#d4d5e5"/>
<rect x="267.00" y="634.00" width="1.84" height="2.00" fill="#d4d5e5"/>
<rect x="269.81" y="634.00" width="1.78" height="2.00" fill="#d4d5e5"/>
<rect x="280.00" y="634.00" width="2.58" height="2.00" fill="#d4d5e5"/>
<rect x="283.55" y="634.00" width="1.78" height="2.00" fill="#d4d5e5"/>
<rect x="299.00" y="634.00" width="2.78" height="2.00" fill="#d4d5e5"/>
<rect x="302.75" y="634.00" width="1.78" height="2.00" fill="#d4d5e5"/>
<rect x="244.00" y="653.00" width="2.34" height="3.00" fill="#fff"/>
<rect x="247.31" y="653.00" width="1.78" height="3.00" fill="#fff"/>
<rect x="267.00" y="653.00" width="1.84" height="3.00" fill="#fff"/>
<rect x="269.81" y="653.00" width="1.78" height="3.00" fill="#fff"/>
<rect x="299.00" y="653.00" width="2.78" height="3.00" fill="#fff"/>
<rect x="302.75" y="653.00" width="1.78" height="3.00" fill="#fff"/>
<rect x="484.00" y="653.00" width="2.28" height="3.00" fill="#fff"/>
<rect x="487.25" y="653.00" width="1.78" height="3.00" fill="#fff"/>
<rect x="373.00" y="674.00" width="2.29" height="2.00" fill="#fff"/>
<rect x="376.26" y="674.00" width="1.78" height="2.00" fill="#fff"/>
<rect x="457.00" y="674.00" width="2.37" height="2.00" fill="#fff"/>
<rect x="460.35" y="674.00" width="1.78" height="2.00" fill="#fff"/>
<rect x="0.5" y="0.5" width="519" height="685" fill="none" stroke="#333" stroke-width="1"/>
</svg>
</body></html>
